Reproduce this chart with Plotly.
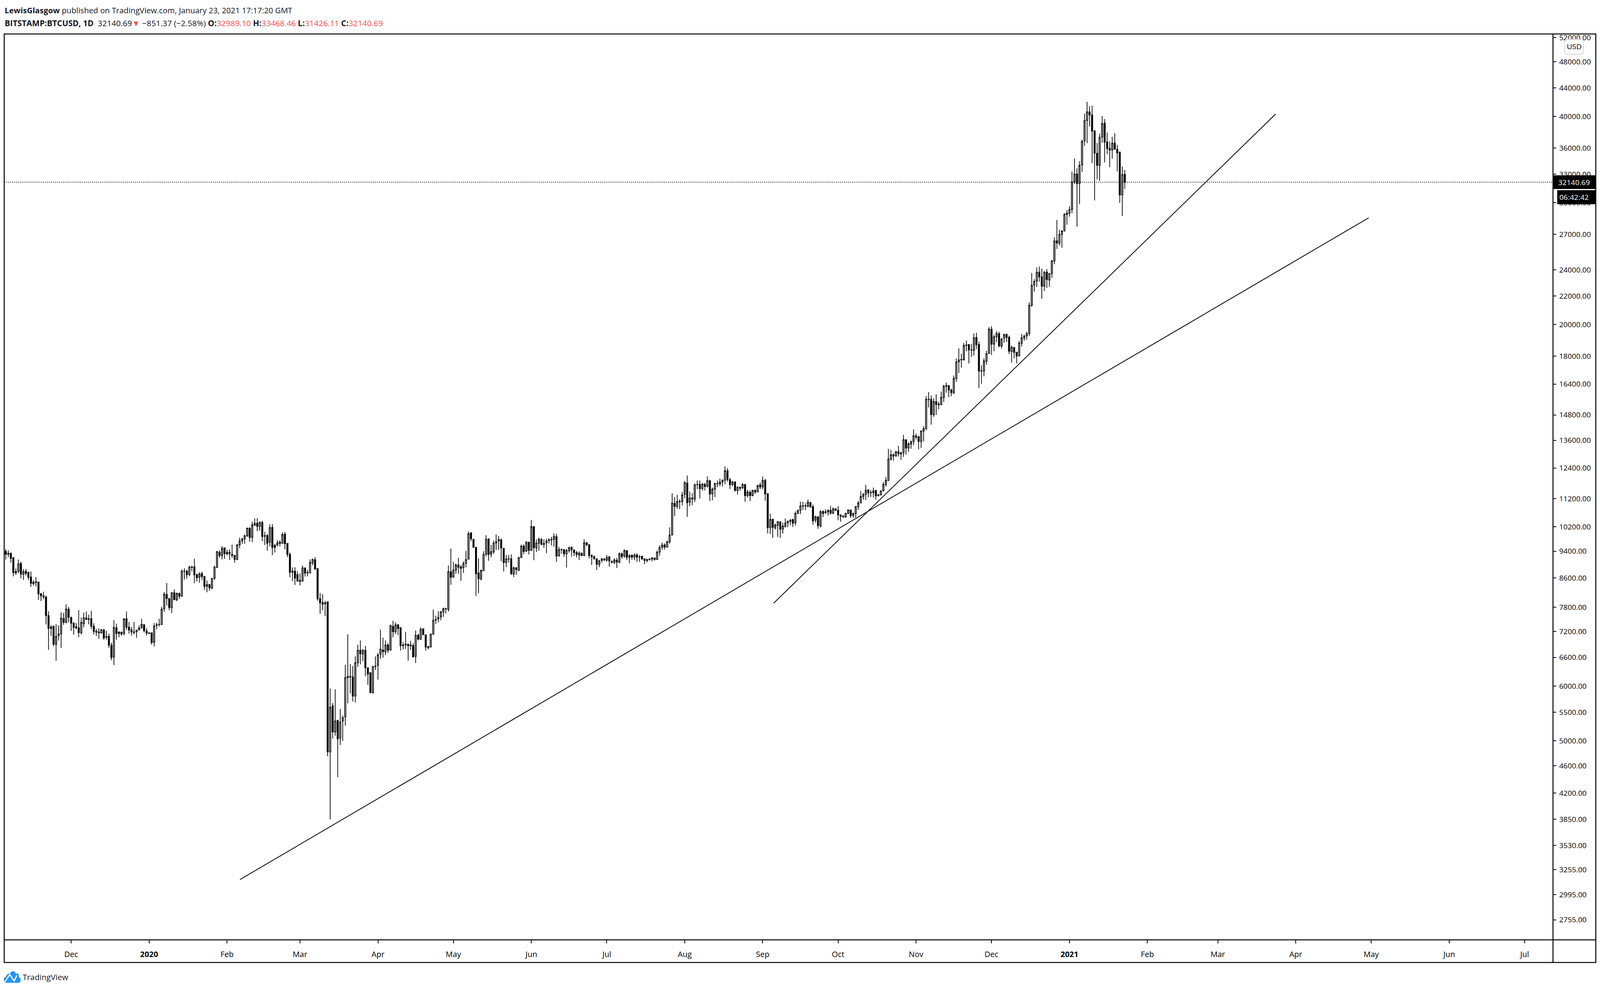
import math
import pandas as pd
import plotly.graph_objects as go

W, H = 4936, 2538
PLOT_L, PLOT_R, PLOT_T, PLOT_B = 13, 4791, 87, 2407
FRAME_R, FRAME_B = 4923, 2465

first_day = "2019-11-05"

opens = [
 9396,9337,9333,9200,8745,8790,9025,8712,8790,8760,8625,8480,8470,8485,8160,8105,8070,7590,7270,7325,6895,7100,7140,7510,7420,7750,
 7540,7400,7310,7285,7170,7385,7530,7510,7510,7325,7205,7165,7160,7235,7060,7080,6875,6610,7290,7150,7180,7150,7510,7300,7235,7185,7190,7235,7290,7360,7210,
 7150,7165,6940,7345,7365,7365,7765,8140,8030,7795,8190,8000,8170,8095,8790,8795,8700,8910,8925,8695,8620,8725,8645,8365,8415,8320,8590,8915,9365,9270,9510,
 9365,9365,9270,9270,9150,9605,9735,9792,9894,10150,9840,10250,10320,10215,10350,9885,9905,9690,10180,9600,9600,9680,9650,9950,9650,9300,8765,8795,8700,
 8530,8510,8895,8755,8745,9040,9140,8875,8025,7925,7895,7940,4820,5620,5150,5355,5045,5340,5415,6170,6185,6185,5805,6485,6760,6680,6760,6375,6275,5875,6405,
 6430,6670,6765,6725,6880,6765,7320,7190,7360,7290,6865,6880,6900,6880,6865,6625,7110,7010,7260,7115,6845,6835,7130,7475,7540,7555,7685,7755,7745,8780,
 8620,8830,8980,8925,8900,9035,9155,9990,9780,9525,8745,8575,8810,9310,9790,9310,9380,9665,9725,9765,9490,9055,9160,9170,8715,8895,8820,9205,9560,9410,9685,
 9430,10205,9510,9660,9780,9620,9665,9745,9765,9780,9870,9260,9445,9450,9320,9420,9525,9440,9360,9280,9330,9265,9670,9610,9270,9230,9155,9000,9120,9160,
 9130,9230,9080,9055,9121,9058,9320,9245,9422,9213,9275,9218,9285,9222,9245,9170,9116,9135,9162,9194,9148,9375,9528,9600,9533,9700,9925,11025,10915,11080,11090,
 11360,11800,11070,11225,11190,11735,11745,11580,11745,11665,11885,11380,11560,11770,11765,11840,11910,12290,11930,11735,11835,11505,11630,11610,11739,11317,11440,11317,11505,11455,11720,
 11650,11905,11385,10170,10460,10160,10250,10370,10120,10210,10335,10385,10445,10335,10665,10770,10925,10925,10925,11050,10900,10430,10545,10220,10730,10690,10715,10775,10670,10830,
 10775,10605,10550,10535,10660,10785,10590,10660,10905,11045,11280,11360,11530,11420,11420,11500,11355,11345,11505,11745,11900,12780,12965,12915,13095,13040,13050,13630,13260,13430,13550,
 13790,13760,13550,14025,14150,15580,15590,14810,15470,15350,15310,15690,16285,16325,16075,15945,16715,17655,17815,17790,18660,18715,18385,18355,19160,18710,17130,17140,17700,18170,
 19689,18746,19215,19400,18625,19130,19350,19165,18290,18530,18235,18015,18800,19130,19265,19415,21325,22815,23115,23800,23440,22720,23810,23195,23710,24720,26430,26225,27010,27310,28965,
 28980,29360,32190,33030,32020,34050,36870,39480,40600,40200,38110,35380,33990,37360,39120,36740,35960,35770,36620,35850,35500,30790,32989.10,
]
highs = [
 9470,9433,9364,9216,8875,9146,9080,8860,8860,8780,8790,8535,8625,8490,8185,8215,8110,7700,7350,7340,7375,7340,7670,7655,7880,7810,
 7560,7420,7400,7725,7540,7665,7690,7610,7710,7395,7255,7275,7255,7250,7215,7145,6935,7475,7385,7200,7180,7520,7690,7430,7305,7430,7240,7340,7510,7370,7280,
 7170,7175,7400,7410,7510,7810,8205,8455,8035,8195,8280,8190,8190,8850,8885,8845,8960,8950,9170,8730,8770,8780,8650,8525,8420,8600,8960,9400,9430,9560,9515,
 9450,9460,9610,9290,9610,9835,9835,9935,10170,10185,10370,10490,10495,10380,10400,10030,9955,10280,10295,9605,9755,9745,10010,10020,9660,9360,8910,8910,8790,
 8730,8965,8900,8835,9150,9175,9215,8880,8180,8145,7970,7960,5950,5670,5935,5360,5560,5440,6440,7130,6460,6415,6625,6885,6985,6785,6860,6380,6280,6415,6625,
 6700,7240,7050,6990,6925,7360,7455,7420,7370,7295,6945,7190,6905,6975,6925,7220,7140,7300,7270,7120,6850,7150,7740,7585,7700,7700,7790,7790,8966,9485,
 9070,9025,9200,8980,9090,9410,10045,10015,9795,9530,9180,8840,9400,9920,9820,9600,9745,9945,9890,9810,9495,9280,9280,9300,8935,8920,9230,9610,9620,9725,9705,
 10430,10220,9780,9840,9820,9780,9800,9820,9860,9980,9960,9535,9490,9465,9475,9550,9550,9460,9410,9395,9370,9780,9695,9620,9300,9270,9195,9140,9200,9190,
 9290,9250,9120,9180,9194,9367,9362,9460,9436,9307,9297,9330,9340,9285,9258,9180,9165,9180,9208,9200,9422,9590,9672,9653,9735,10180,11405,11258,11342,11172,11450,
 11880,12100,11462,11405,11775,11900,11900,11805,11805,12065,11930,11620,11815,11895,11975,11945,12470,12400,12000,11885,11870,11680,11650,11790,11760,11535,11520,11535,11555,11730,11820,
 12060,11960,11390,10650,10465,10310,10400,10375,10340,10485,10405,10460,10475,10735,10805,11085,11085,11035,11170,11085,10980,10590,10550,10780,10775,10815,10805,10935,10880,10845,
 10925,10640,10600,10690,10805,10795,10690,10930,11110,11480,11420,11730,11555,11530,11625,11535,11365,11505,11835,12040,13220,13180,13025,13125,13350,13095,13850,13640,13515,13595,14100,
 13910,13815,14060,14265,15760,15970,15790,15650,15860,15470,15990,16360,16490,16330,16165,16875,17860,18480,18150,18815,18960,18740,18760,19410,19460,18900,17460,17885,18330,19840,
 19895,19330,19580,19530,19115,19385,19415,19280,18650,18545,18250,18935,19385,19330,19530,21530,23745,23265,24185,24270,24090,23905,24045,23745,24790,26750,28330,27430,27370,28980,29270,
 29655,33300,34770,33640,34450,37010,40380,41990,41400,41450,38200,36620,37770,40050,39640,37910,36800,37380,37840,36390,35590,33840,33468.46,
]
lows = [
 9148,9216,9046,8648,8690,8740,8590,8545,8670,8540,8350,8395,8360,7995,7965,8015,7370,6770,7090,6850,6530,6985,6810,7360,7395,7420,
 7210,7120,7250,7060,7125,7295,7480,7370,7255,7125,7090,7020,7150,7000,7000,6815,6540,6435,7000,7060,7100,7105,7235,7145,7100,7125,7046,7220,7260,7175,7100,
 7135,6890,6850,7250,7315,7355,7685,7850,7725,7650,7990,7960,8020,8090,8555,8580,8650,8790,8450,8500,8465,8545,8265,8200,8240,8280,8550,8890,9205,9150,9165,
 9270,9130,9195,9050,9125,9500,9635,9640,9865,9710,9690,10230,10050,10065,9720,9600,9420,9555,9280,9360,9555,9550,9640,9460,9220,8620,8510,8400,8505,
 8390,8505,8640,8650,8740,8970,8830,7975,7630,7730,7572,4750,3850,5040,5085,4430,4930,5000,5260,5665,5855,5700,5680,6395,6450,6520,6200,6025,5860,5850,6330,
 6130,6570,6595,6655,6700,6760,7060,7135,7110,6750,6780,6790,6530,6770,6595,6480,6985,7005,7115,6750,6780,6825,7120,7380,7420,7470,7555,7640,7690,8410,
 8610,8725,8725,8520,8750,8910,9150,9720,9510,8100,8180,8530,8805,9240,9110,9210,9320,9442,9442,9095,8790,8915,9055,8690,8625,8690,8805,9190,9310,9375,9300,
 9410,9125,9375,9420,9585,9510,9340,9645,9585,9550,9075,9230,9330,9230,8900,9355,9230,9250,9210,9130,9250,9250,9560,9180,8980,9150,8830,8915,9050,9110,
 9080,8930,9030,9010,8890,9036,9170,9200,9130,9036,9143,9130,9070,9080,9130,9003,9058,9125,9090,9116,9140,9260,9450,9455,9518,9640,9915,10570,10825,10820,10955,
 11220,10540,10920,10960,11080,11565,11210,11510,11510,11630,11110,11135,11255,11640,11675,11660,11750,11850,11565,11675,11465,11350,11505,11570,11085,11240,11110,11290,11375,11440,11560,
 11560,11130,9970,9960,9830,10105,9855,9825,9970,10180,10190,10255,10190,10240,10640,10640,10790,10785,10880,10880,10270,10340,10130,10180,10535,10645,10585,10620,10640,10745,
 10425,10370,10500,10505,10640,10505,10515,10510,10790,11035,11170,11150,11260,11265,11250,11170,11285,11317,11470,11660,11890,12710,12710,12880,12885,12745,12875,12970,13095,13225,13380,
 13640,13200,13260,13550,14070,15175,14330,14705,14805,15085,15300,15460,15940,15700,15755,15860,16530,17020,17330,17745,18300,17570,17950,18040,18430,16190,16410,16835,17500,18165,
 18070,18302,18854,18545,18470,18830,18875,18130,17620,17880,17580,18000,18590,18950,19015,19250,21215,22325,22675,23065,21790,22355,22600,22685,23365,24450,25730,26040,25820,27270,27885,
 28640,28990,31920,27700,29870,33260,36260,36590,38680,34240,30240,32430,32260,36630,34330,35280,33770,34740,35800,33320,29990,28720,31426.11,
]
closes = [
 9307,9310,9183,8753,8785,9010,8712,8785,8735,8620,8450,8435,8490,8160,8105,8070,7590,7270,7305,6895,7080,7135,7520,7420,7750,7545,
 7400,7295,7280,7170,7415,7530,7490,7495,7325,7200,7180,7185,7240,7040,7075,6875,6600,7290,7150,7180,7135,7500,7300,7235,7185,7175,7225,7280,7370,7215,7155,
 7165,6935,7325,7360,7370,7750,8150,8035,7795,8190,8000,8170,8095,8796,8800,8695,8915,8925,8690,8610,8715,8640,8365,8410,8320,8585,8915,9390,9270,9490,9325,
 9325,9325,9300,9150,9605,9730,9785,9894,10150,9840,10260,10320,10215,10350,9875,9900,9650,10170,9520,9525,9670,9650,9940,9640,9300,8765,8800,8595,8510,
 8505,8895,8740,8745,9055,9140,8865,8025,7920,7875,7920,4820,5590,5150,5340,5030,5320,5400,6170,6195,6195,5805,6485,6760,6680,6755,6375,6245,5870,6405,6415,
 6650,6785,6730,6880,6765,7340,7190,7355,7265,6865,6880,6900,6865,6860,6615,7105,7015,7250,7120,6830,6820,7130,7470,7485,7505,7680,7760,7760,8780,8620,
 8830,8980,8915,8880,9025,9140,9970,9800,9530,8725,8575,8820,9300,9780,9300,9385,9660,9705,9780,9500,9050,9160,9170,8725,8895,8845,9200,9560,9395,9685,9430,
 10200,9510,9660,9780,9620,9645,9725,9765,9780,9870,9250,9450,9450,9320,9420,9510,9450,9360,9300,9340,9270,9665,9610,9270,9230,9165,9000,9100,9160,9130,
 9210,9100,9060,9130,9071,9320,9237,9422,9213,9265,9222,9285,9218,9227,9170,9116,9143,9162,9194,9148,9370,9518,9595,9533,9700,9925,11025,10915,11090,11090,11340,
 11810,11050,11225,11190,11730,11745,11580,11750,11665,11885,11375,11560,11775,11780,11830,11900,12285,11940,11735,11835,11515,11630,11595,11745,11317,11450,11317,11515,11455,11700,11650,
 11900,11385,10170,10450,10180,10255,10370,10120,10220,10325,10385,10425,10320,10660,10765,10930,10935,10935,11060,10890,10400,10540,10240,10725,10665,10720,10775,10670,10820,10775,
 10610,10560,10570,10660,10785,10580,10660,10905,11035,11280,11355,11515,11420,11430,11490,11310,11310,11495,11745,11900,12780,12965,12910,13095,13010,13000,13630,13260,13445,13535,13810,
 13745,13550,14025,14140,15585,15590,14820,15480,15325,15310,15690,16285,16325,16075,15945,16715,17655,17770,17780,18660,18685,18385,18370,19135,18710,17130,17150,17720,18150,19689,
 18730,19196,19413,18630,19065,19350,19155,18300,18545,18235,18015,18790,19130,19250,19400,21325,22785,23093,23800,23440,22720,23800,23235,23700,24715,26420,26240,26990,27310,28860,28860,
 29335,32150,33010,31990,33980,36790,39460,40600,40200,38100,35380,33990,37310,39050,36710,35950,35760,36570,35850,35420,30790,32945,32140.69,
]

trend_a_x = ["2020-02-06 03:00", "2021-04-30 00:00"]
trend_a_y = [3150, 28540]
trend_b_x = ["2020-09-05 08:00", "2021-03-24 00:00"]
trend_b_y = [7905, 40325]

last_price = 32140.69
countdown = "06:42:42"
price_ticks = [52000,48000,44000,40000,36000,33000,30000,27000,24000,22000,20000,18000,16400,14800,13600,12400,
               11200,10200,9400,8600,7800,7200,6600,6000,5500,5000,4600,4200,3850,3530,3255,2995,2755]
month_ticks = ["2019-12-01","2020-01-01","2020-02-01","2020-03-01","2020-04-01","2020-05-01","2020-06-01","2020-07-01",
               "2020-08-01","2020-09-01","2020-10-01","2020-11-01","2020-12-01","2021-01-01","2021-02-01","2021-03-01",
               "2021-04-01","2021-05-01","2021-06-01","2021-07-01"]
month_labels = ["Dec","<b>2020</b>","Feb","Mar","Apr","May","Jun","Jul","Aug","Sep","Oct","Nov","Dec","<b>2021</b>",
                "Feb","Mar","Apr","May","Jun","Jul"]
x_range = ["2019-11-04 09:00", "2021-07-12 07:00"]
y_range = [2577, 52640]

for series in (opens, highs, lows, closes):
    assert len(series) == 446, len(series)
dates = pd.date_range(first_day, periods=446, freq="D")

FONT = "Open Sans"
RED = "#ef5350"
px = lambda x: x / W
py = lambda y: 1 - y / H

fig = go.Figure()
fig.add_trace(go.Scatter(x=x_range, y=[last_price, last_price], mode="lines", hoverinfo="skip",
                         line=dict(color="#000000", width=2, dash="2px,3px")))
fig.add_trace(go.Candlestick(x=dates, open=opens, high=highs, low=lows, close=closes, hoverinfo="skip",
                             whiskerwidth=0,
                             increasing=dict(line=dict(color="#000000", width=1.8), fillcolor="#d1d4dc"),
                             decreasing=dict(line=dict(color="#000000", width=1.8), fillcolor="#000000")))
fig.add_trace(go.Scatter(x=trend_a_x, y=trend_a_y, mode="lines", hoverinfo="skip", line=dict(color="#000000", width=2)))
fig.add_trace(go.Scatter(x=trend_b_x, y=trend_b_y, mode="lines", hoverinfo="skip", line=dict(color="#000000", width=2)))

shapes = [
    dict(type="rect", xref="paper", yref="paper", x0=px(PLOT_L), x1=px(FRAME_R), y0=py(FRAME_B), y1=py(PLOT_T),
         line=dict(color="#000000", width=2.5), layer="above"),
    dict(type="line", xref="paper", yref="paper", x0=px(PLOT_L), x1=px(FRAME_R), y0=py(PLOT_B), y1=py(PLOT_B),
         line=dict(color="#000000", width=2.5), layer="above"),
    dict(type="line", xref="paper", yref="paper", x0=px(PLOT_R), x1=px(PLOT_R), y0=py(FRAME_B), y1=py(PLOT_T),
         line=dict(color="#000000", width=2.5), layer="above"),
    dict(type="rect", xref="paper", yref="paper", x0=px(PLOT_R), x1=px(FRAME_R), y0=py(484), y1=py(449),
         fillcolor="#000000", line=dict(width=0), layer="above"),
    dict(type="rect", xref="paper", yref="paper", x0=px(4804), x1=px(FRAME_R), y0=py(523), y1=py(487),
         fillcolor="#000000", line=dict(width=0), layer="above"),
]

def page_path(cmds):
    out = []
    for c in cmds:
        if isinstance(c, str):
            out.append(c)
        else:
            out.append(f"{px(c[0]):.6f},{py(c[1]):.6f}")
    return " ".join(out)

# USD badge
x0, x1, y0, y1, r = 4827, 4885, 101, 139, 8
shapes.append(dict(type="path", xref="paper", yref="paper", layer="above", fillcolor="#ffffff",
    line=dict(color="#d1d4dc", width=2),
    path=page_path(["M",(x0+r,y0),"L",(x1-r,y0),"Q",(x1,y0),(x1,y0+r),"L",(x1,y1-r),"Q",(x1,y1),(x1-r,y1),
                    "L",(x0+r,y1),"Q",(x0,y1),(x0,y1-r),"L",(x0,y0+r),"Q",(x0,y0),(x0+r,y0),"Z"])))
# TradingView logo
shapes.append(dict(type="path", xref="paper", yref="paper", layer="above", fillcolor="#2196f3", line=dict(width=0),
    path=page_path(["M",(20,2517),"C",(10,2517),(9,2503),(19,2501),"C",(20,2495),(26,2492),(31,2494),
                    "C",(34,2485),(46,2485),(49,2494),"C",(53,2491),(60,2495),(58,2502),
                    "C",(66,2504),(66,2517),(56,2517),"Z"])))
shapes.append(dict(type="path", xref="paper", yref="paper", layer="above", line=dict(color="#ffffff", width=3),
    path=page_path(["M",(13,2517),"L",(30,2496),"L",(44,2512),"L",(52,2498)])))

ann = lambda text, x, y, size, color="#131722", anchor="left": dict(
    text=text, x=px(x), y=py(y), xref="paper", yref="paper", xanchor=anchor, yanchor="middle", showarrow=False,
    font=dict(family=FONT, size=size, color=color))

red = lambda s: f'<span style="color:{RED}">{s}</span>'
annotations = [
    ann("<b>LewisGlasgow</b> published on TradingView.com, January 23, 2021 17:17:20 GMT", 12, 26, 20.2),
    ann(f"<b>BITSTAMP:BTCUSD, 1D</b>  32140.69{red('▼')} −851.37 (−2.58%) <b>O:</b>{red('32989.10')} "
        f"<b>H:</b>{red('33468.46')} <b>L:</b>{red('31426.11')} <b>C:</b>{red('32140.69')}", 12, 59, 20.6),
    ann("TradingView", 68, 2502, 20.4),
    ann("USD", 4856, 119, 19, "#000000", "center"),
    ann(f"{last_price:.2f}", 4856, 467, 19, "#ffffff", "center"),
    ann(countdown, 4856, 505, 19, "#ffffff", "center"),
]

fig.update_layout(
    autosize=True, margin=dict(l=0, r=0, t=0, b=0, pad=0),
    paper_bgcolor="#ffffff", plot_bgcolor="#ffffff", showlegend=False,
    font=dict(family=FONT, size=19, color="#000000"),
    shapes=shapes, annotations=annotations,
    xaxis=dict(type="date", range=x_range, domain=[px(PLOT_L), px(PLOT_R)], rangeslider=dict(visible=False),
               automargin=False, tickmode="array", tickvals=month_ticks, ticktext=month_labels,
               ticks="outside", ticklen=8, tickwidth=2, tickcolor="#000000", ticklabelstandoff=11,
               showgrid=False, zeroline=False, showline=False, tickfont=dict(family=FONT, size=20, color="#000000")),
    yaxis=dict(type="log", range=[math.log10(y_range[0]), math.log10(y_range[1])], side="right",
               domain=[py(PLOT_B), py(PLOT_T)], automargin=False, tickmode="array", tickvals=price_ticks,
               ticktext=[f"{v:.2f}" for v in price_ticks],
               ticks="outside", ticklen=7, tickwidth=2, tickcolor="#000000", ticklabelstandoff=4,
               showgrid=False, zeroline=False, showline=False, tickfont=dict(family=FONT, size=19, color="#000000")),
)

fig.write_html("out.html", default_width="100%", default_height="100vh", config=dict(displayModeBar=False),
               post_script="document.body.style.margin='0';document.documentElement.style.overflow='hidden';"
                           "Plotly.relayout(document.getElementById('{plot_id}'),{width:window.innerWidth,height:window.innerHeight});")
